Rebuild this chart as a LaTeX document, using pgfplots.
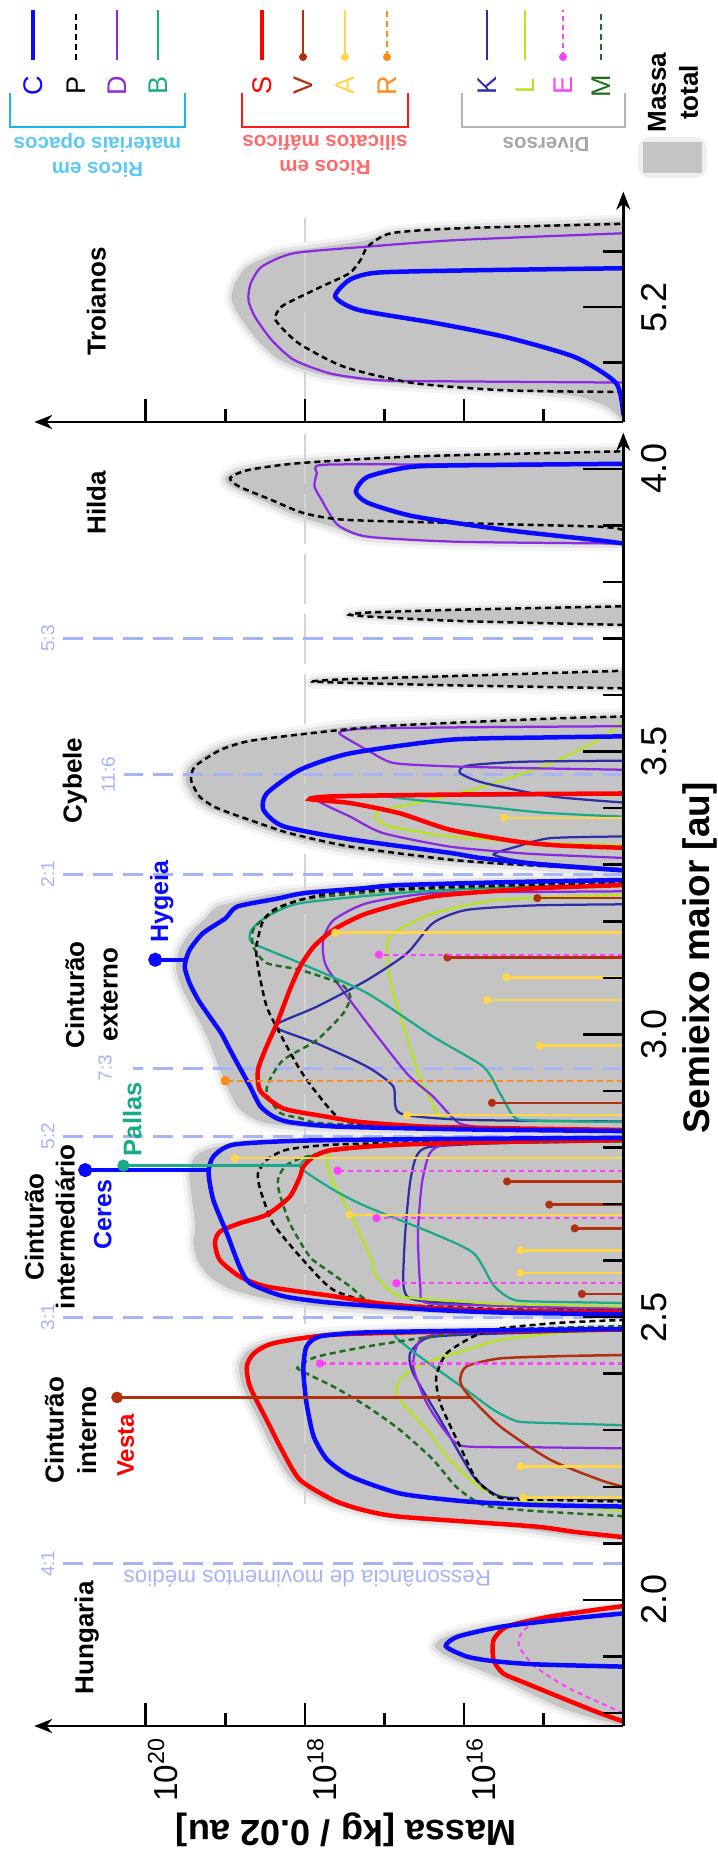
\documentclass[border=0pt]{standalone}
\usepackage{fontspec}
\setmainfont{Liberation Sans}
\usepackage{pgfplots}
\pgfplotsset{compat=1.18}
\usetikzlibrary{arrows.meta}

\definecolor{cC}{HTML}{0A0AFF}
\definecolor{cP}{HTML}{000000}
\definecolor{cD}{HTML}{8A2BE2}
\definecolor{cB}{HTML}{1AAA8A}
\definecolor{cS}{HTML}{FF0000}
\definecolor{cV}{HTML}{B0300F}
\definecolor{cA}{HTML}{FFD54A}
\definecolor{cR}{HTML}{FF8C1A}
\definecolor{cK}{HTML}{2E2EA8}
\definecolor{cL}{HTML}{B4E61E}
\definecolor{cE}{HTML}{FF40FF}
\definecolor{cM}{HTML}{1E6E1E}
\definecolor{fillgray}{HTML}{C4C4C4}
\definecolor{halo}{HTML}{BBBBBB}
\definecolor{reso}{HTML}{A5B4F5}
\definecolor{ref18}{HTML}{D4D4D4}
\definecolor{grpA}{HTML}{1EB4F0}
\definecolor{grpAt}{HTML}{5CC8F8}
\definecolor{grpB}{HTML}{FF1A1A}
\definecolor{grpBt}{HTML}{FF6A6A}
\definecolor{grpC}{HTML}{B4B4B4}
\definecolor{grpCt}{HTML}{A6A6A6}

% one curve: columns a (semi-major axis) and m (log10 of the mass)
\newcommand\crv[2]{\addplot[#1] table[row sep=\\, x expr=-\thisrow{m}, y=a]{a m\\#2};}
% total mass envelope with a soft edge
\newcommand\envl[1]{%
 \addplot[draw=halo, line width=5.6pt, opacity=0.16, smooth, tension=0.4, line join=round] table[row sep=\\, x expr=-\thisrow{m}, y=a]{a m\\#1};%
 \addplot[draw=halo, line width=2.8pt, opacity=0.3, smooth, tension=0.4, line join=round] table[row sep=\\, x expr=-\thisrow{m}, y=a]{a m\\#1};%
 \addplot[fill=fillgray, draw=none, smooth, tension=0.4] table[row sep=\\, x expr=-\thisrow{m}, y=a]{a m\\#1};}
% single bodies drawn from the axis
\newcommand\stm[2]{\addplot[#1, xcomb, mark=*] table[row sep=\\, x expr=-\thisrow{m}, y=a]{a m\\#2};}

\tikzset{
 reg/.style={rotate=90, align=center, font=\bfseries\fontsize{10.4pt}{13pt}\selectfont},
 res/.style={rotate=90, text=reso, font=\fontsize{7.6pt}{9pt}\selectfont},
}
\pgfplotsset{
 sC/.style={draw=cC, line width=1.8pt, smooth, tension=0.4},
 sS/.style={draw=cS, line width=1.8pt, smooth, tension=0.4},
 sP/.style={draw=cP, line width=1pt, dash pattern=on 2.4pt off 1.6pt, smooth, tension=0.4},
 sM/.style={draw=cM, line width=1pt, dash pattern=on 2.4pt off 1.6pt, smooth, tension=0.4},
 sE/.style={draw=cE, line width=0.8pt, dash pattern=on 2pt off 1.6pt, smooth, tension=0.4},
 sD/.style={draw=cD, line width=0.9pt, smooth, tension=0.4},
 sB/.style={draw=cB, line width=0.9pt, smooth, tension=0.4},
 sK/.style={draw=cK, line width=0.9pt, smooth, tension=0.4},
 sL/.style={draw=cL, line width=0.9pt, smooth, tension=0.4},
 sV/.style={draw=cV, line width=1pt, smooth, tension=0.4},
 tA/.style={draw=cA, line width=1pt, mark size=1.1pt, mark options={solid, draw=cA, fill=cA}},
 tV/.style={draw=cV, line width=1pt, mark size=1.1pt, mark options={solid, draw=cV, fill=cV}},
 tE/.style={draw=cE, line width=0.9pt, dash pattern=on 2pt off 1.6pt, mark size=1.2pt, mark options={solid, draw=cE, fill=cE}},
 tR/.style={draw=cR, line width=1pt, dash pattern=on 2.4pt off 1.6pt, mark size=1.4pt, mark options={solid, draw=cR, fill=cR}},
 resl/.style={draw=reso, line width=1.2pt, dash pattern=on 8pt off 4pt},
 semi/.style={
   anchor=south west, x=31.84pt, xmin=-21.4, xmax=-14, enlargelimits=false,
   axis x line=none, axis y line=right, xtick=\empty,
   y axis line style={line width=1.1pt, -{Stealth[length=7.2pt,width=5.6pt]}},
   tick align=inside, major tick length=16pt, minor tick length=8pt,
   tick style={black, line width=1pt},
   yticklabel style={rotate=90, anchor=north, inner sep=2pt, font=\fontsize{14.4pt}{16pt}\selectfont},
   yticklabel shift=5pt, axis on top, clip mode=individual},
 mass/.style={
   anchor=south west, x=31.84pt, xmin=-21.4, xmax=-14, enlargelimits=false,
   axis y line=none, axis x line=bottom, ytick=\empty,
   x axis line style={line width=1.1pt, {Stealth[length=7.2pt,width=5.6pt]}-},
   xtick={-20,-18,-16}, minor xtick={-19,-17,-15},
   tick align=inside, major tick length=9.2pt, minor tick length=5.2pt,
   tick style={black, line width=1pt},
   xticklabel style={xshift=6.8pt, rotate=90, anchor=east, inner sep=2pt, font=\fontsize{13.3pt}{15pt}\selectfont},
   xticklabel shift=2.4pt},
}

\begin{document}
\begin{tikzpicture}
\useasboundingbox (0,0) rectangle (286.8pt,740.4pt);

%================ main belt ================
\begin{axis}[semi, at={(13.704pt,50pt)}, y=226.2pt, ymin=1.777, ymax=4.064,
  ytick={2.0,2.5,3.0,3.5,4.0}, yticklabels={2.0,2.5,3.0,3.5,4.0},
  minor ytick={1.8,1.9,2.1,2.2,2.3,2.4,2.6,2.7,2.8,2.9,3.1,3.2,3.3,3.4,3.6,3.7,3.8,3.9}]

% total mass
\envl{1.778 14\\1.79 14.35\\1.805 14.7\\1.823 15.0\\1.84 15.25\\1.855 15.45\\1.87 15.7\\1.882 15.9\\1.894 16.12\\1.906 16.28\\1.918 16.37\\1.93 16.3\\1.941 16.1\\1.953 15.72\\1.964 15.2\\1.976 14.65\\1.985 14.25\\1.991 14\\}
\envl{2.106 14\\2.111 14.5\\2.12 15.0\\2.13 15.5\\2.145 16.9\\2.16 17.4\\2.177 17.78\\2.21 18.15\\2.26 18.38\\2.318 18.58\\2.377 18.78\\2.413 18.83\\2.438 18.74\\2.456 18.48\\2.469 17.85\\2.476 16.6\\2.481 14\\}
\envl{2.503 14\\2.506 16.0\\2.511 17.0\\2.52 17.9\\2.533 18.5\\2.55 18.95\\2.572 19.2\\2.6 19.35\\2.63 19.4\\2.66 19.38\\2.69 19.4\\2.72 19.43\\2.754 19.45\\2.784 19.38\\2.8 19.15\\2.809 18.6\\2.814 17.2\\2.818 14\\}
\envl{2.827 14\\2.83 16.0\\2.834 17.8\\2.842 18.45\\2.855 18.7\\2.873 18.85\\2.908 18.98\\2.949 19.1\\2.975 19.17\\3.002 19.25\\3.032 19.36\\3.061 19.47\\3.091 19.57\\3.12 19.62\\3.149 19.58\\3.179 19.45\\3.205 19.25\\3.226 19.1\\3.24 18.7\\3.25 18.3\\3.26 17.5\\3.268 16.4\\3.275 14\\}
\envl{3.286 14\\3.297 15.3\\3.307 16.4\\3.33 17.6\\3.356 18.35\\3.379 18.82\\3.4 19.2\\3.42 19.4\\3.45 19.5\\3.474 19.45\\3.503 19.15\\3.519 18.8\\3.533 18.05\\3.545 17.4\\3.553 16.0\\3.564 14\\}
\envl{3.612 14\\3.617 16.06\\3.621 17.3\\3.624 17.9\\3.628 17.5\\3.634 16.06\\3.643 14\\}
\envl{3.724 14\\3.731 16.06\\3.738 17.1\\3.742 17.44\\3.746 17.2\\3.751 16.06\\3.757 14\\}
\envl{3.866 14\\3.870 16.2\\3.878 17.25\\3.895 17.6\\3.91 17.95\\3.922 18.2\\3.945 18.55\\3.969 18.92\\3.984 19.0\\3.999 18.8\\4.012 18.15\\4.024 16.5\\4.033 14\\}

% reference level and mean-motion resonances
\addplot[draw=ref18, line width=1pt, dash pattern=on 20pt off 4pt] coordinates {(-18,2.17) (-18,4.064)};
\addplot[resl] coordinates {(-14,2.064) (-21.08,2.064)};
\addplot[resl] coordinates {(-14,2.50) (-21.08,2.50)};
\addplot[resl] coordinates {(-14,2.82) (-21.08,2.82)};
\addplot[resl] coordinates {(-14,2.94) (-20.16,2.94)};
\addplot[resl] coordinates {(-14,3.283) (-21.08,3.283)};
\addplot[resl] coordinates {(-14,3.459) (-20.27,3.459)};
\addplot[resl] coordinates {(-14,3.70) (-21.08,3.70)};

%---- Hungaria
\crv{sE}{1.80 14\\1.842 14.66\\1.882 15.11\\1.918 15.31\\1.941 15.28\\1.964 15.06\\1.982 14.37\\1.988 14\\}
\crv{sS}{1.785 14\\1.80 14.3\\1.823 14.71\\1.853 15.23\\1.87 15.51\\1.894 15.63\\1.929 15.63\\1.953 15.46\\1.97 14.94\\1.982 14.37\\1.989 14\\}
\crv{sC}{1.882 14\\1.886 15.1\\1.892 15.65\\1.90 15.97\\1.918 16.23\\1.935 16.08\\1.953 15.51\\1.967 14.66\\1.976 14\\}

%---- inner belt
\crv{sL}{2.157 14\\2.175 15.2\\2.195 15.76\\2.248 16.18\\2.301 16.47\\2.354 16.81\\2.377 16.85\\2.401 16.72\\2.424 16.39\\2.442 15.97\\2.46 15.55\\2.472 14.8\\2.477 14\\}
\crv{sK}{2.177 14\\2.18 15.0\\2.183 15.55\\2.218 15.88\\2.319 16.3\\2.401 16.64\\2.436 16.68\\2.463 16.47\\2.469 15.97\\2.474 14.8\\2.477 14\\}
\crv{sD}{2.268 14\\2.27 15.2\\2.272 16.01\\2.295 16.22\\2.348 16.47\\2.413 16.64\\2.46 16.55\\2.472 16.18\\2.476 15.0\\2.478 14\\}
\crv{sB}{2.309 14\\2.313 15.0\\2.316 15.34\\2.336 15.63\\2.371 15.97\\2.413 16.39\\2.448 16.72\\2.472 16.85\\2.477 16.0\\2.48 14\\}
\crv{sV}{2.2 14\\2.212 14.29\\2.248 14.92\\2.307 15.55\\2.366 15.97\\2.389 16.05\\2.413 15.97\\2.427 15.55\\2.431 14.8\\2.433 14\\}
\crv{sM}{2.148 14\\2.158 15.2\\2.168 15.76\\2.2 16.1\\2.248 16.39\\2.301 16.81\\2.342 17.22\\2.377 17.64\\2.406 18.06\\2.413 18.08\\2.43 17.85\\2.448 17.22\\2.466 16.39\\2.478 15.55\\2.484 14\\}
\crv{sP}{2.174 14\\2.177 15.0\\2.181 15.55\\2.212 15.84\\2.271 16.05\\2.348 16.3\\2.395 16.35\\2.436 16.22\\2.466 15.88\\2.48 15.55\\2.49 14.8\\2.495 14\\}
\crv{sS}{2.111 14\\2.12 14.6\\2.13 15.13\\2.147 16.8\\2.16 17.3\\2.177 17.65\\2.212 18.06\\2.26 18.27\\2.318 18.48\\2.377 18.69\\2.413 18.73\\2.436 18.64\\2.454 18.39\\2.469 17.64\\2.475 15.96\\2.478 14\\}
\crv{sC}{2.165 14\\2.168 15.13\\2.174 15.97\\2.188 16.8\\2.218 17.42\\2.248 17.72\\2.289 17.89\\2.348 17.98\\2.407 18.02\\2.448 17.98\\2.466 17.81\\2.473 17.22\\2.477 15.5\\2.479 14\\}

%---- intermediate belt
\crv{sK}{2.513 14\\2.52 15.5\\2.53 16.6\\2.554 16.76\\2.648 16.74\\2.737 16.68\\2.784 16.6\\2.801 16.43\\2.808 15.5\\2.811 14\\}
\crv{sD}{2.515 14\\2.52 15.5\\2.525 16.47\\2.554 16.55\\2.648 16.58\\2.737 16.53\\2.79 16.43\\2.805 16.22\\2.81 15.3\\2.812 14\\}
\crv{sL}{2.519 14\\2.523 15.5\\2.527 15.97\\2.537 16.81\\2.572 17.1\\2.607 17.18\\2.684 17.43\\2.737 17.64\\2.778 17.73\\2.796 17.64\\2.805 17.2\\2.81 16.0\\2.812 14\\}
\crv{sB}{2.525 14\\2.528 15.2\\2.533 15.42\\2.556 15.63\\2.613 15.88\\2.648 16.39\\2.695 17.22\\2.725 17.64\\2.766 18.06\\2.789 17.85\\2.801 17.22\\2.807 15.97\\2.811 14\\}
\crv{sM}{2.51 14\\2.514 15.8\\2.519 16.81\\2.53 17.22\\2.554 17.43\\2.584 17.73\\2.607 17.94\\2.666 18.19\\2.725 18.33\\2.748 18.33\\2.769 18.23\\2.784 17.98\\2.798 17.43\\2.806 16.5\\2.811 14\\}
\crv{sP}{2.511 14\\2.514 15.5\\2.524 17.01\\2.548 17.64\\2.607 18.06\\2.666 18.4\\2.725 18.56\\2.754 18.59\\2.778 18.48\\2.796 18.23\\2.805 17.64\\2.81 16.2\\2.812 14\\}
\crv{sS}{2.509 14\\2.511 15.5\\2.516 16.39\\2.525 17.1\\2.537 17.64\\2.554 18.48\\2.572 18.82\\2.601 19.07\\2.631 19.13\\2.651 19.07\\2.666 18.82\\2.681 18.48\\2.713 18.19\\2.749 18.06\\2.766 18.02\\2.784 17.89\\2.796 17.64\\2.805 16.81\\2.811 15.13\\2.813 14\\}
\crv{sC}{2.505 14\\2.508 15.5\\2.513 16.39\\2.525 17.64\\2.537 18.27\\2.56 18.69\\2.589 18.82\\2.648 18.98\\2.707 19.15\\2.755 19.21\\2.784 19.15\\2.805 18.9\\2.812 18.06\\2.815 16.39\\2.817 14\\}

%---- outer belt
\crv{sL}{2.845 14\\2.848 15.8\\2.855 16.3\\2.902 16.47\\2.92 16.55\\3.014 16.76\\3.096 16.93\\3.155 16.97\\3.179 16.89\\3.214 16.39\\3.238 15.55\\3.247 14\\}
\crv{sD}{2.829 14\\2.833 15.5\\2.84 16.0\\2.852 16.14\\2.89 16.39\\2.931 16.72\\3.037 17.31\\3.12 17.73\\3.167 17.77\\3.202 17.64\\3.232 17.22\\3.25 16.39\\3.252 15.0\\3.253 14\\}
\crv{sK}{2.846 14\\2.849 16.0\\2.861 16.81\\2.908 16.89\\2.943 17.22\\2.984 17.85\\3.008 18.31\\3.02 18.33\\3.049 17.85\\3.096 17.22\\3.143 16.72\\3.197 16.39\\3.22 15.97\\3.228 15.13\\3.23 14\\}
\crv{sB}{2.845 14\\2.848 15.2\\2.855 15.38\\2.896 15.55\\2.943 15.76\\2.996 16.39\\3.073 17.22\\3.126 18.06\\3.155 18.56\\3.167 18.69\\3.185 18.67\\3.208 18.48\\3.232 18.06\\3.25 16.81\\3.26 15.5\\3.265 14\\}
\crv{sM}{2.831 14\\2.835 16.5\\2.843 17.8\\2.852 18.06\\2.861 18.31\\2.896 18.48\\2.92 18.44\\2.955 18.27\\2.99 17.85\\3.037 17.52\\3.067 17.43\\3.09 17.56\\3.114 18.06\\3.126 18.48\\3.155 18.65\\3.185 18.65\\3.208 18.48\\3.238 18.06\\3.255 16.81\\3.264 15.0\\3.268 14\\}
\crv{sP}{2.83 14\\2.833 16.0\\2.838 17.1\\2.851 17.56\\2.896 17.85\\2.937 18.06\\2.99 18.27\\3.049 18.48\\3.12 18.59\\3.155 18.61\\3.202 18.52\\3.226 18.31\\3.25 17.64\\3.262 16.0\\3.268 14\\}
\crv{sS}{2.831 14\\2.834 15.5\\2.837 16.5\\2.845 17.3\\2.855 17.75\\2.869 18.27\\2.9 18.56\\2.937 18.59\\2.979 18.48\\3.02 18.35\\3.079 18.19\\3.12 18.06\\3.155 17.89\\3.185 17.64\\3.214 17.22\\3.244 16.39\\3.258 15.13\\3.264 14\\}
\crv{sC}{2.829 14\\2.832 16.0\\2.837 17.6\\2.845 18.2\\2.855 18.4\\2.873 18.56\\2.908 18.69\\2.949 18.85\\2.975 18.95\\3.002 19.05\\3.032 19.2\\3.061 19.34\\3.091 19.45\\3.12 19.51\\3.149 19.45\\3.179 19.28\\3.205 19.0\\3.226 18.85\\3.24 18.35\\3.25 18.0\\3.258 17.3\\3.264 16.8\\3.27 15.2\\3.273 14\\}

%---- Cybele
\crv{sL}{3.335 14\\3.338 14.92\\3.35 16.18\\3.368 16.93\\3.385 17.12\\3.397 17.02\\3.409 16.6\\3.438 15.76\\3.479 14.92\\3.522 14.29\\3.555 14\\}
\crv{sK}{3.292 14\\3.305 15.2\\3.318 15.63\\3.332 15.34\\3.347 14.92\\3.35 14\\}
\crv{sK}{3.41 14\\3.421 14.92\\3.445 15.76\\3.462 16.05\\3.475 15.97\\3.482 15.3\\3.484 14\\}
\crv{sB}{3.385 14\\3.392 15.0\\3.403 15.76\\3.42 16.93\\3.423 16.0\\3.425 14\\}
\crv{sD}{3.312 14\\3.318 15.0\\3.321 15.34\\3.332 16.18\\3.356 17.02\\3.385 17.43\\3.415 17.85\\3.42 17.4\\3.422 16.0\\3.424 14\\}
\crv{sD}{3.468 14\\3.471 15.3\\3.474 16.18\\3.48 16.89\\3.503 17.22\\3.531 17.56\\3.537 17.5\\3.541 17.2\\3.543 16.0\\3.545 14\\}
\crv{sS}{3.33 14\\3.334 14.8\\3.341 15.34\\3.362 16.18\\3.391 16.81\\3.409 17.43\\3.416 17.94\\3.421 17.64\\3.424 16.18\\3.426 14\\}
\crv{sP}{3.291 14\\3.3 15.3\\3.309 16.18\\3.332 17.43\\3.356 18.2\\3.379 18.69\\3.4 19.1\\3.42 19.32\\3.45 19.43\\3.474 19.38\\3.503 19.06\\3.519 18.69\\3.533 17.9\\3.545 17.02\\3.555 15.5\\3.56 14.6\\3.562 14\\}
\crv{sC}{3.29 14\\3.3 15.0\\3.312 15.8\\3.321 16.18\\3.345 17.43\\3.368 18.27\\3.397 18.52\\3.426 18.48\\3.468 18.06\\3.497 17.43\\3.521 16.18\\3.525 15.0\\3.527 14\\}

%---- narrow P groups near 5:3
\crv{sP}{3.612 14\\3.617 16.06\\3.621 17.3\\3.624 17.9\\3.628 17.5\\3.634 16.06\\3.643 14\\}
\crv{sP}{3.724 14\\3.731 16.06\\3.738 17.1\\3.742 17.44\\3.746 17.2\\3.751 16.06\\3.757 14\\}

%---- Hilda
\crv{sD}{3.868 14\\3.871 16.06\\3.88 17.21\\3.898 17.56\\3.916 17.67\\3.945 17.79\\3.969 17.88\\3.992 17.85\\4.007 17.79\\4.008 16.5\\4.01 14\\}
\crv{sP}{3.892 14\\3.898 14.33\\3.904 16.06\\3.91 17.5\\3.922 18.02\\3.945 18.42\\3.969 18.83\\3.984 18.94\\3.998 18.71\\4.01 18.08\\4.022 16.63\\4.031 14\\}
\crv{sC}{3.868 14\\3.874 14.33\\3.892 15.48\\3.916 16.63\\3.94 17.21\\3.96 17.36\\3.986 17.21\\4.004 16.63\\4.007 15.5\\4.009 14\\}

%---- single large bodies
\stm{tA}{2.181 15.26\\2.236 15.29\\2.578 15.29\\2.618 15.29\\2.681 17.44\\2.781 18.88\\2.857 16.72\\2.980 15.05\\3.061 15.71\\3.101 15.47\\3.180 17.62\\3.383 15.5\\}
\stm{tV}{2.541 14.52\\2.657 14.61\\2.699 14.93\\2.740 15.46\\2.879 15.65\\3.136 16.21\\3.241 15.08\\}
\stm{tE}{2.418 17.81\\2.560 16.85\\2.675 17.10\\2.759 17.59\\3.141 17.07\\}
\stm{tR}{2.918 19.0\\}

% Vesta, Ceres, Pallas, Hygeia
\crv{draw=cV, line width=1pt, mark=*, mark indices={2}, mark size=1.8pt, mark options={fill=cV}}{2.358 15.93\\2.358 20.36\\}
\crv{draw=cC, line width=1.6pt, mark=*, mark indices={2}, mark size=2pt, mark options={fill=cC}}{2.760 19.2\\2.760 20.76\\}
\crv{draw=cB, line width=1.2pt, mark=*, mark indices={2}, mark size=1.8pt, mark options={fill=cB}}{2.768 18.06\\2.768 20.28\\}
\crv{draw=cC, line width=1.6pt, mark=*, mark indices={2}, mark size=2pt, mark options={fill=cC}}{3.132 19.5\\3.132 19.88\\}

% names
\node[reg] at (-20.74,1.933) {Hungaria};
\node[reg] at (-20.945,2.30) {Cinturão\\interno};
\node[reg, font=\bfseries\fontsize{10.4pt}{12.4pt}\selectfont] at (-21.205,2.66) {Cinturão\\intermediário};
\node[reg, font=\bfseries\fontsize{10.4pt}{13.4pt}\selectfont] at (-20.68,3.07) {Cinturão\\externo};
\node[reg] at (-20.89,3.449) {Cybele};
\node[reg] at (-20.62,3.94) {Hilda};
\node[reg, text=cS, font=\bfseries\fontsize{9.6pt}{11pt}\selectfont] at (-20.25,2.273) {Vesta};
\node[reg, text=cC, font=\bfseries\fontsize{10pt}{11pt}\selectfont] at (-20.54,2.681) {Ceres};
\node[reg, text=cB, font=\bfseries\fontsize{10.2pt}{11pt}\selectfont] at (-20.17,2.85) {Pallas};
\node[reg, text=cC, font=\bfseries\fontsize{10pt}{11pt}\selectfont] at (-19.80,3.235) {Hygeia};

\node[res] at (-21.23,2.064) {4:1};
\node[res] at (-21.23,2.50) {3:1};
\node[res] at (-21.23,2.82) {5:2};
\node[res] at (-20.51,2.94) {7:3};
\node[res] at (-21.23,3.283) {2:1};
\node[res] at (-20.47,3.459) {11:6};
\node[res] at (-21.23,3.70) {5:3};
\node[rotate=180, text=reso, font=\fontsize{9pt}{11pt}\selectfont] at (-17.97,2.037) {Ressonância de movimentos médios};
\end{axis}

\begin{axis}[mass, at={(13.704pt,50pt)}, y=226.2pt, ymin=1.777, ymax=4.064,
  xticklabels={10\textsuperscript{20},10\textsuperscript{18},10\textsuperscript{16}}]
\addplot[draw=none] coordinates {(-15,3)};
\end{axis}

%================ Trojans ================
\begin{axis}[semi, at={(13.704pt,571.6pt)}, y=222pt, ymin=4.993, ymax=5.408,
  ytick={5.2}, yticklabels={5.2}, minor ytick={5.1,5.3}]
\envl{4.995 14\\5.02 14.2\\5.04 14.6\\5.05 15.4\\5.06 16.6\\5.068 17.3\\5.08 17.85\\5.105 18.32\\5.141 18.6\\5.183 18.82\\5.213 18.92\\5.243 18.88\\5.273 18.72\\5.297 18.35\\5.309 17.75\\5.321 17.2\\5.333 16.95\\5.342 16.2\\5.35 14.8\\5.355 14\\}
\addplot[draw=ref18, line width=1pt, dash pattern=on 20pt off 4pt] coordinates {(-18,4.993) (-18,5.36)};
\crv{sD}{5.064 14\\5.066 16.0\\5.068 17.04\\5.08 17.67\\5.105 18.14\\5.141 18.42\\5.183 18.63\\5.213 18.71\\5.243 18.68\\5.273 18.54\\5.297 18.14\\5.309 17.21\\5.321 16.06\\5.333 14\\}
\crv{sP}{5.047 14\\5.05 15.48\\5.063 16.63\\5.092 17.5\\5.135 18.08\\5.177 18.37\\5.2 18.3\\5.213 18.14\\5.237 17.79\\5.261 17.44\\5.285 17.3\\5.309 17.21\\5.333 16.92\\5.342 16.06\\5.35 14\\}
\crv{sC}{5.005 14\\5.063 14.09\\5.11 14.61\\5.146 15.48\\5.171 16.35\\5.195 17.33\\5.219 17.62\\5.249 17.44\\5.262 17.1\\5.266 16.0\\5.27 14\\}
\node[reg] at (-20.62,5.21) {Troianos};
\end{axis}

\begin{axis}[mass, at={(13.704pt,571.6pt)}, y=222pt, ymin=4.993, ymax=5.408, xticklabels={}]
\addplot[draw=none] coordinates {(-15,5.2)};
\end{axis}

%================ titles and key ================
\begin{scope}[x=0.4pt, y=0.4pt]
\node[rotate=90, font=\bfseries\fontsize{14.8pt}{17pt}\selectfont] at (700,893) {Semieixo maior [au]};
\node[rotate=180, font=\bfseries\fontsize{14.5pt}{17pt}\selectfont] at (346,21) {Massa [kg / 0.02 au]};

% line samples
\draw[cC, line width=1.6pt] (33,1791)--(33,1841);
\draw[cP, line width=1pt, dash pattern=on 2.4pt off 1.6pt] (76,1791)--(76,1841);
\draw[cD, line width=0.9pt] (117,1791)--(117,1841);
\draw[cB, line width=0.9pt] (158,1791)--(158,1841);
\draw[cS, line width=1.6pt] (262,1791)--(262,1841);
\draw[cV, line width=1pt] (303,1794)--(303,1841); \fill[cV] (303,1794) circle (4);
\draw[cA, line width=1pt] (345,1794)--(345,1841); \fill[cA] (345,1794) circle (4);
\draw[cR, line width=1pt, dash pattern=on 2.4pt off 1.6pt] (387,1794)--(387,1841); \fill[cR] (387,1794) circle (4);
\draw[cK, line width=0.9pt] (487,1791)--(487,1841);
\draw[cL, line width=0.9pt] (525,1791)--(525,1841);
\draw[cE, line width=0.9pt, dash pattern=on 2pt off 1.6pt] (563,1794)--(563,1841); \fill[cE] (563,1794) circle (4);
\draw[cM, line width=1pt, dash pattern=on 2.4pt off 1.6pt] (601,1791)--(601,1841);

\begin{scope}[every node/.style={rotate=90, font=\fontsize{10.8pt}{12pt}\selectfont}]
\node[text=cC] at (33,1765) {C};
\node[text=cP] at (76,1765) {P};
\node[text=cD] at (117,1765) {D};
\node[text=cB] at (158,1765) {B};
\node[text=cS] at (262,1765) {S};
\node[text=cV] at (303,1765) {V};
\node[text=cA] at (345,1765) {A};
\node[text=cR] at (387,1765) {R};
\node[text=cK] at (487,1765) {K};
\node[text=cL] at (525,1765) {L};
\node[text=cE] at (563,1765) {E};
\node[text=cM] at (601,1765) {M};
\end{scope}

\draw[grpA, line width=1.1pt] (10,1758)--(10,1724)--(185,1724)--(185,1758);
\draw[grpB, line width=1.1pt] (242,1758)--(242,1724)--(408,1724)--(408,1758);
\draw[grpC, line width=1.1pt] (462,1758)--(462,1724)--(625,1724)--(625,1758);
\node[rotate=180, align=center, text=grpAt, font=\bfseries\fontsize{8.2pt}{10pt}\selectfont] at (97.5,1695.5) {Ricos em\\materiais opacos};
\node[rotate=180, align=center, text=grpBt, font=\bfseries\fontsize{8.2pt}{10pt}\selectfont] at (325,1695.5) {Ricos em\\silicatos máficos};
\node[rotate=180, text=grpCt, font=\bfseries\fontsize{8.2pt}{10pt}\selectfont] at (546,1706) {Diversos};

\draw[halo, line width=4pt, opacity=0.25, rounded corners=3pt] (643,1678) rectangle (702,1709);
\fill[fillgray] (643,1678) rectangle (702,1709);
\node[rotate=90, align=center, font=\bfseries\fontsize{10.4pt}{12.8pt}\selectfont] at (673,1758.5) {Massa\\total};
\end{scope}
\end{tikzpicture}
\end{document}
